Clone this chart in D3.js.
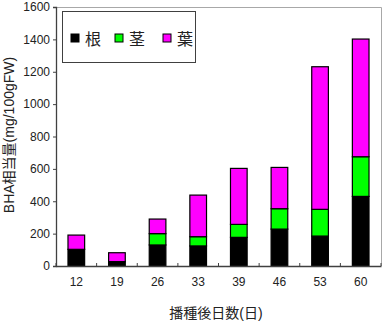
<!DOCTYPE html>
<html>
<head>
<meta charset="utf-8">
<script src="https://cdn.jsdelivr.net/npm/d3@7"></script>
<style>
  body { margin: 0; background: #fff; }
  svg { display: block; font-family: "Liberation Sans", Arial, "Noto Sans CJK JP", sans-serif; }
</style>
</head>
<body>
<div id="chart"></div>
<script>
const days = ['12', '19', '26', '33', '39', '46', '53', '60'];
const root = [103, 27, 130, 124, 177, 228, 185, 430];
const stem = [0, 0, 70, 57, 80, 126, 165, 245];
const leaf = [88, 55, 90, 257, 346, 255, 881, 727];
const yTicks = [0, 200, 400, 600, 800, 1000, 1200, 1400, 1600];
const seriesNames = ['根', '茎', '葉'];
const seriesColors = ['#000000', '#00ff00', '#ff00ff'];

const width = 387, height = 331;
const plot = { left: 56, right: 381, top: 7, bottom: 266 };

const svg = d3.select('#chart').append('svg')
  .attr('width', width)
  .attr('height', height);

const x = d3.scaleBand()
  .domain(days)
  .range([plot.left, plot.right])
  .padding(0);

const y = d3.scaleLinear()
  .domain([0, 1600])
  .range([plot.bottom, plot.top]);

// frame top/right
svg.append('path')
  .attr('d', `M${plot.left},${plot.top + 0.5}H${plot.right + 0.5}V${plot.bottom}`)
  .attr('fill', 'none')
  .attr('stroke', '#a8a8a8')
  .attr('stroke-width', 1);

// stacked bars
const table = days.map((d, i) => ({ day: d, root: root[i], stem: stem[i], leaf: leaf[i] }));
const stacked = d3.stack().keys(['root', 'stem', 'leaf'])(table);
const barW = x.bandwidth() * 0.41;

svg.append('g')
  .selectAll('g')
  .data(stacked)
  .join('g')
  .attr('fill', (d, i) => seriesColors[i])
  .selectAll('rect')
  .data(d => d.filter(p => p[1] - p[0] > 0))
  .join('rect')
  .attr('x', d => x(d.data.day) + (x.bandwidth() - barW) / 2)
  .attr('y', d => y(d[1]))
  .attr('width', barW)
  .attr('height', d => y(d[0]) - y(d[1]))
  .attr('stroke', '#000')
  .attr('stroke-width', 1.2);

// y axis
const yAxis = svg.append('g')
  .attr('transform', `translate(${plot.left},0)`)
  .call(d3.axisLeft(y).tickValues(yTicks).tickFormat(d3.format('d')).tickSize(3).tickPadding(3));
yAxis.select('.domain').attr('stroke', '#404040').attr('stroke-width', 1.3);
yAxis.selectAll('.tick line').attr('stroke', '#404040');
yAxis.selectAll('text').attr('font-size', 12).attr('fill', '#222')
  .attr('font-family', '"Liberation Sans", Arial, sans-serif');

// x axis
const xAxis = svg.append('g')
  .attr('transform', `translate(0,${plot.bottom})`)
  .call(d3.axisBottom(x).tickSize(0).tickPadding(11));
xAxis.select('.domain').attr('stroke', '#404040').attr('stroke-width', 1.3);
xAxis.selectAll('text').attr('font-size', 12).attr('fill', '#222')
  .attr('font-family', '"Liberation Sans", Arial, sans-serif');

// inner ticks at category boundaries
svg.append('g')
  .selectAll('line')
  .data(days.concat(['end']))
  .join('line')
  .attr('x1', (d, i) => i < days.length ? x(d) : plot.right)
  .attr('x2', (d, i) => i < days.length ? x(d) : plot.right)
  .attr('y1', plot.bottom)
  .attr('y2', plot.bottom - 3)
  .attr('stroke', '#404040');

// axis titles
svg.append('text')
  .attr('x', 216)
  .attr('y', 318)
  .attr('text-anchor', 'middle')
  .attr('font-size', 14)
  .attr('fill', '#222')
  .text('播種後日数(日)');

svg.append('text')
  .attr('transform', `translate(14,135) rotate(-90)`)
  .attr('text-anchor', 'middle')
  .attr('font-size', 14)
  .attr('fill', '#222')
  .text('BHA相当量(mg/100gFW)');

// legend
const legend = svg.append('g');
legend.append('rect')
  .attr('x', 62.5)
  .attr('y', 11.5)
  .attr('width', 133)
  .attr('height', 51)
  .attr('fill', '#fff')
  .attr('stroke', '#404040');

const itemX = [71, 115, 163];
const item = legend.selectAll('g.item')
  .data(seriesNames)
  .join('g')
  .attr('class', 'item')
  .attr('transform', (d, i) => `translate(${itemX[i]},34)`);
item.append('rect')
  .attr('width', 8)
  .attr('height', 8)
  .attr('fill', (d, i) => seriesColors[i])
  .attr('stroke', '#000');
item.append('text')
  .attr('x', 14)
  .attr('y', 11)
  .attr('font-size', 16)
  .attr('fill', '#222')
  .text(d => d);
</script>
</body>
</html>
